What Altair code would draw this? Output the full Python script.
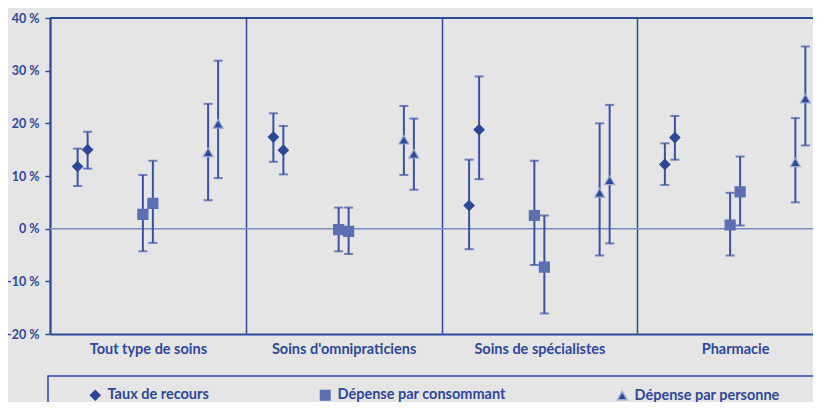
import altair as alt
import pandas as pd

categories = ["Tout type de soins", "Soins d'omnipraticiens", "Soins de spécialistes", "Pharmacie"]
series = ["Taux de recours", "Dépense par consommant", "Dépense par personne"]

# two estimates per category and series: (value, low, high)
taux_1 = [(11.8, 8.1, 15.2), (17.4, 12.7, 21.9), (4.4, -3.9, 13.1), (12.2, 8.3, 16.2)]
taux_2 = [(15.0, 11.4, 18.4), (14.9, 10.3, 19.5), (18.8, 9.4, 28.9), (17.3, 13.1, 21.4)]
conso_1 = [(2.7, -4.3, 10.2), (-0.2, -4.3, 4.0), (2.5, -6.9, 12.9), (0.7, -5.1, 6.8)]
conso_2 = [(4.8, -2.7, 12.9), (-0.5, -4.8, 4.0), (-7.3, -16.1, 2.5), (7.0, 0.6, 13.7)]
pers_1 = [(14.5, 5.4, 23.7), (16.9, 10.2, 23.3), (6.8, -5.1, 20.0), (12.6, 5.0, 21.0)]
pers_2 = [(19.9, 9.6, 31.9), (14.2, 7.4, 20.9), (9.2, -2.8, 23.5), (24.7, 15.8, 34.6)]

rows = []
for serie, (s1, s2) in zip(series, [(taux_1, taux_2), (conso_1, conso_2), (pers_1, pers_2)]):
    for sub, vals in ((1, s1), (2, s2)):
        for cat, (v, lo, hi) in zip(categories, vals):
            rows.append({"cat": cat, "serie": serie, "sub": sub, "val": v, "lo": lo, "hi": hi})
df = pd.DataFrame(rows)

NAVY = "#2f4898"
BAR = "#3a52a3"
FONT = "Lato"
RANGE = 783               # full panel span (extends past the window like the original)
GROUP = RANGE / 4 / 3     # dodge between the three series inside a category
PAIR = 5                  # dodge between the two estimates

x_enc = alt.X("cat:N", sort=categories,
              scale=alt.Scale(range=[0, RANGE], paddingInner=0, paddingOuter=0),
              axis=alt.Axis(title=None, ticks=False, tickBand="extent", grid=True,
                            gridColor=NAVY, gridWidth=1.5, labelAngle=0, labelPadding=8,
                            labelFont=FONT, labelFontSize=14.5, labelFontWeight="bold",
                            labelColor=NAVY, domainColor=NAVY, domainWidth=2))
y_scale = alt.Scale(domain=[-20, 40], nice=False, zero=False)
y_axis = alt.Axis(title=None, values=[-20, -10, 0, 10, 20, 30, 40],
                  labelExpr="datum.value + ' %'", grid=False, tickSize=5,
                  tickColor=NAVY, tickWidth=1.5, labelPadding=6, domainColor=NAVY,
                  domainWidth=2, labelFont=FONT, labelFontSize=12.5, labelFontWeight="bold",
                  labelColor=NAVY)

zero = alt.Chart(pd.DataFrame({"z": [0]})).mark_rule(color="#7d8cbd", strokeWidth=1.5).encode(
    y=alt.Y("z:Q", scale=y_scale, axis=y_axis)
)
top = alt.Chart(pd.DataFrame({"t": [40]})).mark_rule(color=NAVY, strokeWidth=2).encode(
    y=alt.Y("t:Q", scale=y_scale, title=None)
)

shape_scale = alt.Scale(domain=series, range=["diamond", "square", "triangle-up"])
color_scale = alt.Scale(domain=series, range=["#2d4795", "#5c6fb1", "#2d4795"])
stroke_scale = alt.Scale(domain=series, range=["#2d4795", "#5c6fb1", "#9aa8d2"])

leg = alt.Legend(title=None, orient="none", legendX=38, legendY=370,
                 direction="horizontal", columnPadding=108, labelLimit=400,
                 labelFont=FONT, labelFontSize=14.5, labelFontWeight="bold",
                 labelColor=NAVY, symbolSize=90, labelOffset=5)

layers = [zero, top]
for i, serie in enumerate(series):
    for sub in (1, 2):
        off = (i - 1) * GROUP + (-PAIR if sub == 1 else PAIR)
        base = alt.Chart(df).transform_filter(
            (alt.datum.serie == serie) & (alt.datum.sub == sub))
        layers.append(base.mark_rule(xOffset=off, strokeWidth=2, color=BAR).encode(
            x=x_enc, y=alt.Y("lo:Q", scale=y_scale, title=None), y2="hi:Q"))
        for f in ("hi", "lo"):
            layers.append(base.mark_tick(xOffset=off, size=9, thickness=2, color=BAR,
                                         orient="horizontal").encode(
                x=x_enc, y=alt.Y(f"{f}:Q", scale=y_scale, title=None)))
        layers.append(base.mark_point(xOffset=off, filled=True, opacity=1, size=100,
                                      strokeWidth=1.2).encode(
            x=x_enc, y=alt.Y("val:Q", scale=y_scale, title=None),
            shape=alt.Shape("serie:N", scale=shape_scale, sort=series, legend=leg),
            color=alt.Color("serie:N", scale=color_scale, sort=series, legend=leg),
            stroke=alt.Stroke("serie:N", scale=stroke_scale, legend=None),
        ))

legend_box = alt.Chart(pd.DataFrame({"b": [0]})).mark_rect(
    fill=None, stroke=NAVY, strokeWidth=1.5, clip=False).encode(
    x=alt.value(-2), x2=alt.value(900), y=alt.value(358), y2=alt.value(500))
layers.append(legend_box)

chart = alt.layer(*layers).properties(
    width=763, height=316,
    autosize=alt.AutoSizeParams(type="none"),
    padding={"left": 42, "top": 10, "right": 0, "bottom": 68},
    background="#e5e5e5",
).configure_view(strokeWidth=0)

chart.save("out.html", embed_options={"renderer": "svg", "actions": False})
